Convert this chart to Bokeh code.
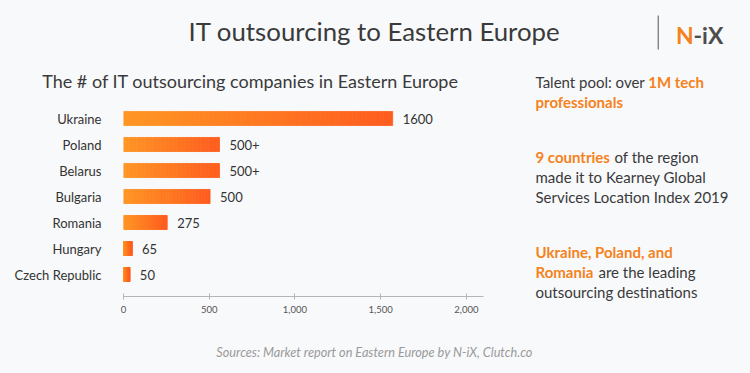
from bokeh.plotting import figure
from bokeh.layouts import column, row
from bokeh.models import Range1d, FixedTicker, NumeralTickFormatter, Label, BoxAnnotation
from bokeh.core.properties import value
from bokeh.embed import file_html
from bokeh.resources import INLINE

# ---- data ----
countries = ["Ukraine", "Poland", "Belarus", "Bulgaria", "Romania", "Hungary", "Czech Republic"]
counts = [1570, 560, 560, 505, 255, 50, 37]          # bar lengths as drawn
count_labels = ["1600", "500+", "500+", "500", "275", "65", "50"]
x_ticks = [0, 500, 1000, 1500, 2000]

# ---- style ----
BG = "#F8F9FA"
FONT = "Lato"
DARK = "#3a3a3a"
ORANGE = "#F58220"


def text_panel(w, h):
    """A figure whose frame is the whole canvas, with pixel coordinates (y downwards)."""
    f = figure(width=w, height=h, output_backend="svg", toolbar_location=None, title=None,
               x_range=Range1d(0, w), y_range=Range1d(h, 0),
               x_axis_type=None, y_axis_type=None,
               min_border=0, min_border_left=0, min_border_right=0,
               min_border_top=0, min_border_bottom=0,
               background_fill_color=BG, border_fill_color=BG)
    f.outline_line_color = None
    f.frame_align = False
    return f


def lab(f, x, y, text, size, color, style="normal", align="left"):
    # y is the wanted baseline; shift up to compensate the renderer's baseline offset
    y_adj = y - 0.33 * size
    f.add_layout(Label(x=x, y=y_adj, text=text, text_font=FONT, text_font_size="%gpx" % size,
                       text_color=color, text_font_style=style, text_align=align,
                       text_baseline="alphabetic"))


HEAD_H = 92

# ---- header (page 0..750, 0..92) ----
head = text_panel(750, HEAD_H)
lab(head, 374, 39, "IT outsourcing to Eastern Europe", 25.8, DARK, align="center")
head.add_layout(BoxAnnotation(left=657.2, right=658.2, top=15, bottom=49,
                              fill_color="#555555", fill_alpha=1, line_color=None))
lab(head, 675.5, 41.7, "N", 23, ORANGE, "bold")
lab(head, 693.0, 41.7, "-iX", 23, "#4d4d4d", "bold")
lab(head, 41.7, 86.7, "The # of IT outsourcing companies in Eastern Europe", 18, DARK)
lab(head, 535, 86.7, "Talent pool: over", 15, DARK)
lab(head, 647.7, 86.7, "1M tech", 15, ORANGE, "bold")

# ---- chart (page 0..510, 92..335) ----
CW, CH = 510, 335 - HEAD_H
FL, FR, FT, FB = 123, 27, 105 - HEAD_H, 39
p = figure(width=CW, height=CH, output_backend="svg", toolbar_location=None, title=None,
           x_range=Range1d(0, 2100), y_range=Range1d(-0.846, 6.5),
           min_border_left=FL, min_border_right=FR, min_border_top=FT, min_border_bottom=FB,
           background_fill_color=BG, border_fill_color=BG)
p.outline_line_color = None
p.frame_align = False
p.xgrid.visible = False
p.ygrid.visible = False

ypos = list(range(len(countries) - 1, -1, -1))

# gradient bars: each bar split into slices coloured from light to dark orange
N = 60
c0 = (255, 150, 36)
c1 = (255, 92, 30)
ys, lefts, rights, cols = [], [], [], []
for v, y in zip(counts, ypos):
    for k in range(N):
        t = k / (N - 1)
        col = "#%02x%02x%02x" % tuple(int(round(a + (b - a) * t)) for a, b in zip(c0, c1))
        ys.append(y)
        lefts.append(v * k / N)
        rights.append(v * (k + 1) / N)
        cols.append(col)
p.hbar(y=ys, left=lefts, right=rights, height=0.54, fill_color=cols, line_color=cols, line_width=0.8)

p.text(x=counts, y=ypos, text=count_labels, x_offset=10, text_baseline="middle",
       text_font=value(FONT), text_font_size="13px", text_color="#333333")

p.yaxis.ticker = FixedTicker(ticks=ypos)
p.yaxis.major_label_overrides = {y: c for y, c in zip(ypos, countries)}
p.yaxis.axis_line_color = None
p.yaxis.major_tick_line_color = None
p.yaxis.minor_tick_line_color = None
p.yaxis.major_label_standoff = 16
p.yaxis.major_label_text_font = FONT
p.yaxis.major_label_text_font_size = "13px"
p.yaxis.major_label_text_color = "#333333"

p.xaxis.ticker = FixedTicker(ticks=x_ticks)
p.xaxis.formatter = NumeralTickFormatter(format="0,0")
p.xaxis.axis_line_color = "#b5b5b5"
p.xaxis.major_tick_line_color = "#b5b5b5"
p.xaxis.major_tick_in = 3
p.xaxis.major_tick_out = 3
p.xaxis.minor_tick_line_color = None
p.xaxis.major_label_standoff = 6
p.xaxis.major_label_text_font = FONT
p.xaxis.major_label_text_font_size = "9.5px"
p.xaxis.major_label_text_color = "#555555"

# ---- right panel (page 510..750, 92..335) ----
side = text_panel(240, 335 - HEAD_H)
X0 = 25  # page x 535


def sy(page_y):
    return page_y - HEAD_H


lab(side, X0, sy(106.7), "professionals", 15, ORANGE, "bold")

lab(side, X0, sy(161), "9 countries", 15, ORANGE, "bold")
lab(side, 104, sy(161), "of the region", 15, DARK)
lab(side, X0, sy(181), "made it to Kearney Global", 15, DARK)
lab(side, X0, sy(201), "Services Location Index 2019", 15, DARK)

lab(side, X0, sy(256.7), "Ukraine, Poland, and", 15, ORANGE, "bold")
lab(side, X0, sy(276.7), "Romania", 15, ORANGE, "bold")
lab(side, 88, sy(276.7), "are the leading", 15, DARK)
lab(side, X0, sy(296.7), "outsourcing destinations", 15, DARK)

# ---- footer (page 0..750, 335..373) ----
foot = text_panel(750, 38)
lab(foot, 374, 21, "Sources: Market report on Eastern Europe by N-iX, Clutch.co", 12.7,
    "#9a9a9a", "italic", align="center")

layout = column(head, row(p, side), foot)

html = file_html(layout, INLINE)
html = html.replace("<head>", "<head><style>body{background:%s;}</style>" % BG, 1)
open("out.html", "w").write(html)
